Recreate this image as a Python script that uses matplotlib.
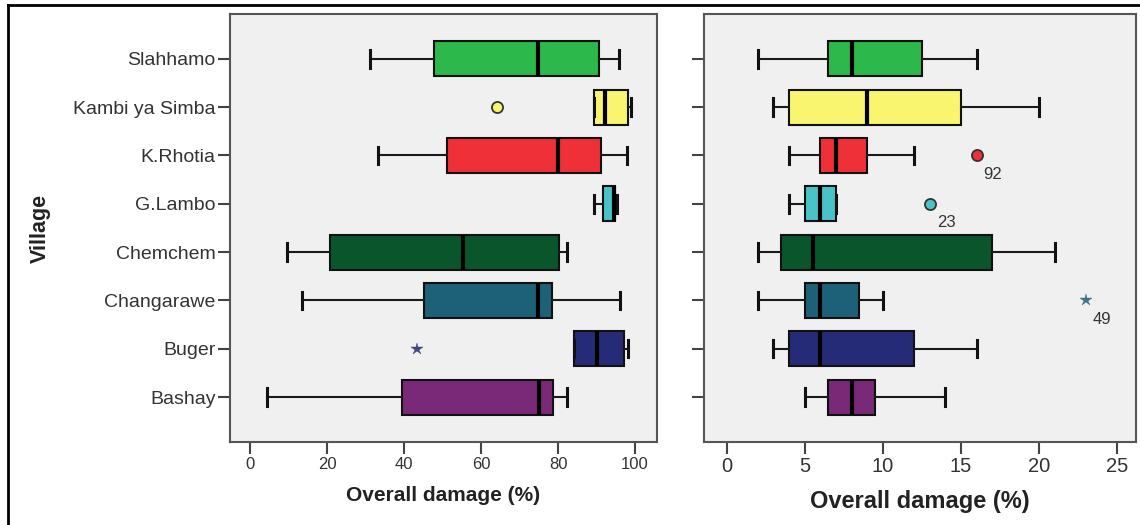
import matplotlib
matplotlib.use("Agg")
import matplotlib.pyplot as plt
from matplotlib.lines import Line2D

plt.rcParams['font.family'] = ['Liberation Sans', 'DejaVu Sans']

# villages, bottom to top
villages = ["Bashay", "Buger", "Changarawe", "Chemchem",
            "G.Lambo", "K.Rhotia", "Kambi ya Simba", "Slahhamo"]
colors = ["#7A2878", "#262B78", "#1D6178", "#0B552D",
          "#48C4C8", "#EF3038", "#FAF56E", "#2DB84B"]

# left panel: whisker low, Q1, median, Q3, whisker high
left_lo = [4.2, 84.0, 13.3, 9.4, 89.2, 33.2, 89.2, 31.2]
left_q1 = [39.5, 84.0, 45.2, 20.6, 91.6, 51.2, 89.2, 47.7]
left_med = [75.0, 90.2, 74.7, 55.2, 94.5, 80.0, 92.2, 74.7]
left_q3 = [78.7, 97.2, 78.3, 80.3, 94.9, 91.2, 98.2, 90.6]
left_hi = [82.2, 98.1, 96.1, 82.2, 95.4, 98.0, 98.9, 95.9]
# outliers: (village index, value, kind, label)
left_out = [(6, 64.2, "o", ""), (1, 43.2, "*", "")]

# right panel
right_lo = [5.0, 3.0, 2.0, 2.0, 4.0, 4.0, 3.0, 2.0]
right_q1 = [6.5, 4.0, 5.0, 3.5, 5.0, 6.0, 4.0, 6.5]
right_med = [8.0, 6.0, 6.0, 5.5, 6.0, 7.0, 9.0, 8.0]
right_q3 = [9.5, 12.0, 8.5, 17.0, 7.0, 9.0, 15.0, 12.5]
right_hi = [14.0, 16.0, 10.0, 21.0, 7.0, 12.0, 20.0, 16.0]
right_out = [(5, 16.0, "o", "92"), (4, 13.0, "o", "23"), (2, 23.0, "*", "49")]

left_ticks = [0, 20, 40, 60, 80, 100]
right_ticks = [0, 5, 10, 15, 20, 25]

fig = plt.figure(figsize=(11.4, 5.25), dpi=100)
ax1 = fig.add_axes([0.2018, 0.158, 0.3745, 0.8155])
ax2 = fig.add_axes([0.6175, 0.158, 0.379, 0.8155])

# outer frame of the picture
fig.add_artist(Line2D([8/1140, 8/1140], [0, 1 - 5/525], color="black", lw=2,
                      transform=fig.transFigure))
fig.add_artist(Line2D([8/1140, 1], [1 - 5/525, 1 - 5/525], color="black", lw=2,
                      transform=fig.transFigure))


def draw(ax, lo, q1, med, q3, hi, outs, ticks, xlim, tick_fs, lab_fs):
    stats = []
    for i in range(len(villages)):
        stats.append(dict(whislo=lo[i], q1=q1[i], med=med[i], q3=q3[i],
                          whishi=hi[i], fliers=[]))
    pos = list(range(1, len(villages) + 1))
    b = ax.bxp(stats, positions=pos, vert=False, widths=0.72,
               patch_artist=True, showfliers=False,
               boxprops=dict(edgecolor="#111111", linewidth=1.5),
               medianprops=dict(color="black", linewidth=3),
               whiskerprops=dict(color="#1a1a1a", linewidth=1.5),
               capprops=dict(color="#111111", linewidth=2.2),
               capwidths=0.36)
    for patch, c in zip(b["boxes"], colors):
        patch.set_facecolor(c)
    for idx, v, kind, lab in outs:
        if kind == "o":
            ax.plot(v, idx + 1, "o", ms=8, mfc=colors[idx], mec="#333333",
                    mew=1.3, zorder=5)
        else:
            ax.plot(v, idx + 1, "*", ms=9, mfc=colors[idx], mec=colors[idx],
                    mew=0.3, alpha=0.85, zorder=5)
        if lab:
            ax.annotate(lab, (v, idx + 1), xytext=(5, -8),
                        textcoords="offset points", fontsize=12,
                        color="#333333", va="top", ha="left")
    ax.set_facecolor("#F0F0F0")
    ax.set_xlim(*xlim)
    ax.set_ylim(0.07, 8.93)
    ax.set_xticks(ticks)
    ax.set_xticklabels([str(t) for t in ticks], fontsize=tick_fs, color="#333333")
    ax.set_yticks(pos)
    ax.tick_params(length=8.5, width=1.5, color="#444444", pad=2)
    for s in ax.spines.values():
        s.set_color("#555555")
        s.set_linewidth(1.5)
    ax.set_xlabel("Overall damage (%)", fontsize=lab_fs, fontweight="bold",
                  color="#222222", labelpad=10)


draw(ax1, left_lo, left_q1, left_med, left_q3, left_hi, left_out,
     left_ticks, (-5.3, 105.7), 12, 15)
ax1.set_yticklabels(villages, fontsize=14, color="#333333")
ax1.set_ylabel("Village", fontsize=15.5, fontweight="bold", color="#222222",
               labelpad=16)

draw(ax2, right_lo, right_q1, right_med, right_q3, right_hi, right_out,
     right_ticks, (-1.45, 26.2), 14.5, 17)
ax2.set_yticklabels([])

fig.savefig("out.png", dpi=100)
